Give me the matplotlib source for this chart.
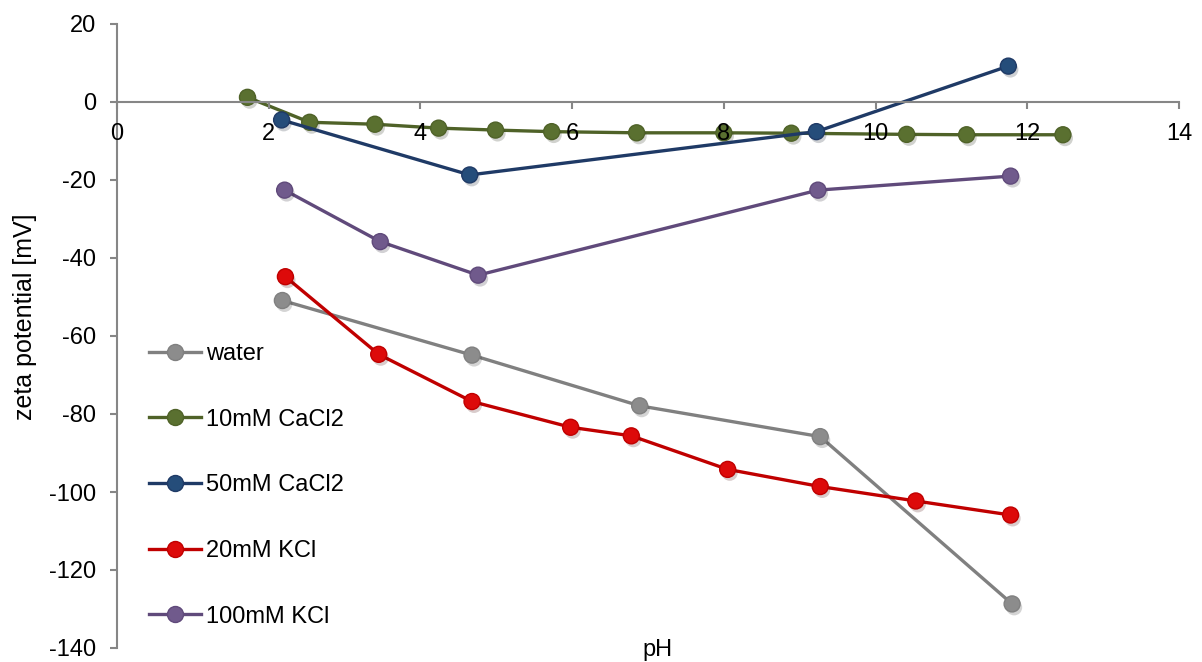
import matplotlib
matplotlib.use('Agg')
import matplotlib.pyplot as plt
import matplotlib.patheffects as pe

plt.rcParams['font.family'] = ['Liberation Sans', 'DejaVu Sans']
plt.rcParams['axes.unicode_minus'] = False

# data
water_ph = [2.18, 4.68, 6.89, 9.27, 11.80]
water_zeta = [-50.9, -64.9, -77.9, -85.8, -128.7]

cacl10_ph = [1.72, 2.54, 3.40, 4.24, 4.99, 5.73, 6.85, 8.00, 8.89, 10.41, 11.20, 12.47]
cacl10_zeta = [1.2, -5.2, -5.7, -6.7, -7.2, -7.6, -7.9, -7.9, -8.0, -8.3, -8.4, -8.4]

cacl50_ph = [2.17, 4.65, 9.22, 11.75]
cacl50_zeta = [-4.6, -18.7, -7.6, 9.2]

kcl20_ph = [2.22, 3.45, 4.68, 5.98, 6.78, 8.05, 9.27, 10.53, 11.78]
kcl20_zeta = [-44.8, -64.7, -76.8, -83.4, -85.6, -94.2, -98.6, -102.3, -105.9]

kcl100_ph = [2.21, 3.47, 4.76, 9.24, 11.78]
kcl100_zeta = [-22.6, -35.8, -44.4, -22.6, -19.0]

series = [
    ('water', water_ph, water_zeta, '#808080', '#8c8c8c'),
    ('10mM CaCl2', cacl10_ph, cacl10_zeta, '#4F6228', '#5a7030'),
    ('50mM CaCl2', cacl50_ph, cacl50_zeta, '#1F3A66', '#254d7a'),
    ('20mM KCl', kcl20_ph, kcl20_zeta, '#C00000', '#dd0a0a'),
    ('100mM KCl', kcl100_ph, kcl100_zeta, '#604A7B', '#705a8c'),
]

fs = 17
shadow = [pe.SimplePatchShadow(offset=(1.5, -2.5), alpha=0.2), pe.Normal()]

fig = plt.figure(figsize=(12.02, 6.62), dpi=100)
ax = fig.add_axes([117 / 1202, 14 / 662, 1062 / 1202, 624 / 662])

for label, x, y, col, face in series:
    ax.plot(x, y, '-', color=col, lw=2.4)
    ax.plot(x, y, 'o', ls='none', ms=11.5, mfc=face, mec=col, mew=1.0,
            path_effects=shadow)
    # proxy for the legend: line with marker
    ax.plot([], [], '-o', color=col, lw=2.4, ms=11.5, mfc=face, mec=col,
            mew=1.0, label=label)

ax.set_xlim(0, 14)
ax.set_ylim(-140, 20)
ax.set_xticks(range(0, 15, 2))
ax.set_yticks(range(-140, 21, 20))

ax.spines['top'].set_visible(False)
ax.spines['right'].set_visible(False)
ax.spines['bottom'].set_position(('data', 0))
for s in ('left', 'bottom'):
    ax.spines[s].set_color('#868686')
    ax.spines[s].set_linewidth(1.5)

ax.tick_params(axis='both', colors='#868686', labelcolor='black',
               labelsize=fs, width=1.5, length=5, direction='out')
ax.tick_params(axis='x', pad=10)
ax.tick_params(axis='y', pad=10)
# tick labels sit on top of the data like in the original
ax.xaxis.set_zorder(5)

fig.text(658 / 1202, 1 - 650 / 662, 'pH', ha='center', va='center', fontsize=fs)
fig.text(25 / 1202, 1 - 317 / 662, 'zeta potential [mV]', ha='center', va='center',
         rotation=90, fontsize=18)

ax.legend(loc='upper left', bbox_to_anchor=(0.03, 0.489), frameon=False,
          fontsize=fs, handlelength=2.2, handletextpad=0.22,
          labelspacing=1.85, borderpad=0, borderaxespad=0)

fig.savefig('out.png', dpi=100)
